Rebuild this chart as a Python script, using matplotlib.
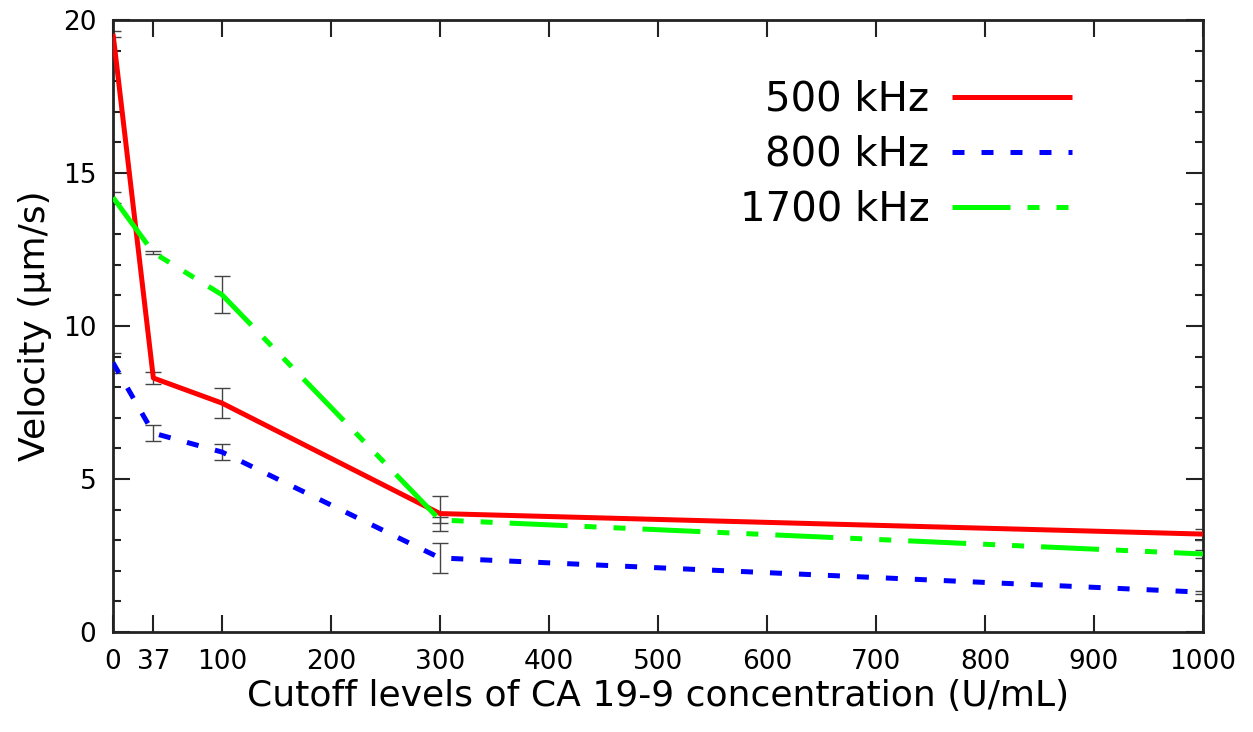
"""
Скорость частиц vs пороговые уровни CA 19-9
"""
import matplotlib
matplotlib.use("Agg")
import matplotlib.pyplot as plt
from matplotlib.ticker import MultipleLocator

# данные
cutoffs = [0, 37, 100, 300, 1000]
v_500 = [19.55, 8.3, 7.48, 3.87, 3.2]
err_500 = [0.1, 0.2, 0.5, 0.57, 0.18]
v_800 = [8.8, 6.5, 5.88, 2.42, 1.3]
err_800 = [0.33, 0.27, 0.26, 0.48, 0.05]
v_1700 = [14.2, 12.4, 11.02, 3.66, 2.55]
err_1700 = [0.17, 0.05, 0.6, 0.1, 0.12]

labels = ['500 kHz', '800 kHz', '1700 kHz']
x_ticks = [0, 37, 100, 200, 300, 400, 500, 600, 700, 800, 900, 1000]

plt.rcParams['font.family'] = ['DejaVu Sans']

fig = plt.figure(figsize=(12.53, 7.32), dpi=100)
ax = fig.add_axes([0.0902, 0.1366, 0.8698, 0.8361])

lw = 3.6
series = [
    (v_500, err_500, 'red', (None, None)),
    (v_800, err_800, 'blue', (0, (2.4, 3.4))),
    (v_1700, err_1700, '#00ff00', (0, (11.6, 3.4, 2.4, 3.4, 2.4, 3.4))),
]

handles = []
for (vals, errs, color, dash), lab in zip(series, labels):
    ax.errorbar(cutoffs, vals, yerr=errs, fmt='none', ecolor='#444444',
                elinewidth=1.0, capsize=6, capthick=1.0, zorder=2)
    if dash[1] is None:
        line, = ax.plot(cutoffs, vals, color=color, linewidth=lw,
                        solid_capstyle='butt', zorder=3, label=lab)
    else:
        line, = ax.plot(cutoffs, vals, color=color, linewidth=lw,
                        linestyle=dash, dash_capstyle='butt', zorder=3, label=lab)
    handles.append(line)

ax.set_xlim(0, 1000)
ax.set_ylim(0, 20)
ax.set_xticks(x_ticks)
ax.set_xticklabels([str(t) for t in x_ticks])
ax.yaxis.set_major_locator(MultipleLocator(5))
ax.yaxis.set_minor_locator(MultipleLocator(1))

ax.tick_params(axis='both', which='major', direction='in', length=12, width=1.5,
               top=True, right=True, labelsize=19, colors='#222222',
               labelcolor='black', pad=12)
ax.tick_params(axis='y', which='minor', direction='in', length=6, width=1.5,
               left=True, right=True, colors='#222222')
for sp in ax.spines.values():
    sp.set_linewidth(2)
    sp.set_color('#222222')

ax.set_xlabel('Cutoff levels of CA 19-9 concentration (U/mL)', fontsize=26, labelpad=3)
ax.set_ylabel('Velocity (µm/s)', fontsize=26, labelpad=8)

leg = ax.legend(handles=handles, loc='upper right', bbox_to_anchor=(0.880, 0.902),
                frameon=False, fontsize=29, markerfirst=False, handlelength=2.97,
                handletextpad=0.57, labelspacing=0.37, borderaxespad=0, borderpad=0)
for t in leg.get_texts():
    t.set_ha('right')

fig.savefig('out.png', dpi=100)
